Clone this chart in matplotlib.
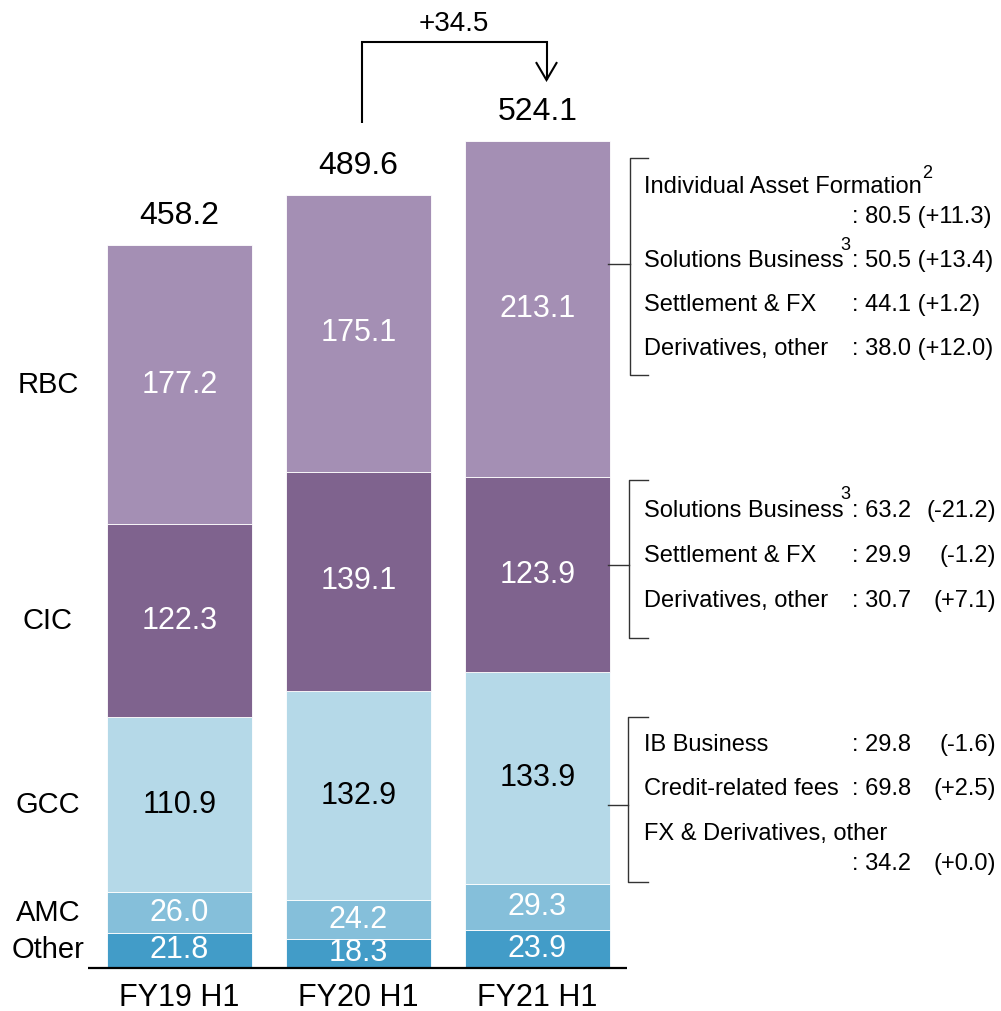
import matplotlib
matplotlib.use("Agg")
import matplotlib.pyplot as plt
import numpy as np

plt.rcParams['font.family'] = ['Liberation Sans', 'DejaVu Sans']

# ---- data ----
periods = ["FY19 H1", "FY20 H1", "FY21 H1"]
segments = ["Other", "AMC", "GCC", "CIC", "RBC"]
other = [21.8, 18.3, 23.9]
amc = [26.0, 24.2, 29.3]
gcc = [110.9, 132.9, 133.9]
cic = [122.3, 139.1, 123.9]
rbc = [177.2, 175.1, 213.1]
totals = [458.2, 489.6, 524.1]

rbc_items = ["Individual Asset Formation", "Solutions Business", "Settlement & FX", "Derivatives, other"]
rbc_values = [80.5, 50.5, 44.1, 38.0]
rbc_changes = [11.3, 13.4, 1.2, 12.0]

cic_items = ["Solutions Business", "Settlement & FX", "Derivatives, other"]
cic_values = [63.2, 29.9, 30.7]
cic_changes = [-21.2, -1.2, 7.1]

gcc_items = ["IB Business", "Credit-related fees", "FX & Derivatives, other"]
gcc_values = [29.8, 69.8, 34.2]
gcc_changes = [-1.6, 2.5, 0.0]

colors = ["#429cc8", "#85bfda", "#b5d9e8", "#7f638e", "#a48fb4"]
label_colors = ["white", "white", "black", "white", "white"]

# ---- figure / axes ----
W, H = 1001, 1011
fig = plt.figure(figsize=(W / 100, H / 100), dpi=100)
ax = fig.add_axes([0, 0, 1, 1])
ax.set_axis_off()

px_per_x = 179.0
x0_px = 179.5
px_per_y = 1.577
base_px = 967.5  # from top
ax.set_xlim(-x0_px / px_per_x, (W - x0_px) / px_per_x)
ax.set_ylim(-(H - base_px) / px_per_y, base_px / px_per_y)


def fpx(x, y):
    """figure coords from pixel position (origin top-left)"""
    return x / W, 1 - y / H


def dy(pixels):
    return pixels / px_per_y


def dx(pixels):
    return pixels / px_per_x


x = np.arange(len(periods))
width = 0.805
stack = [other, amc, gcc, cic, rbc]
bottom = np.zeros(len(periods))
centers = []
for vals, col, tcol in zip(stack, colors, label_colors):
    vals = np.array(vals)
    ax.bar(x, vals, width, bottom=bottom, color=col, edgecolor="white", linewidth=0.6, zorder=2)
    mids = bottom + vals / 2
    centers.append(mids)
    for xi, m, v in zip(x, mids, vals):
        ax.text(xi, m, f"{v:.1f}", ha="center", va="center", color=tcol, fontsize=22, zorder=3)
    bottom = bottom + vals

# totals above bars
for xi, t in zip(x, totals):
    ax.text(xi, t + dy(29), f"{t:.1f}", ha="center", va="center", fontsize=23, color="black")

# baseline
ax.plot([dx(88 - x0_px), dx(627 - x0_px)], [0, 0], color="black", lw=1.6, zorder=4, solid_capstyle="butt")

# period labels
for xi, p in zip(x, periods):
    ax.text(xi, -dy(30), p, ha="center", va="center", fontsize=22)

# segment names on the left, aligned with first bar
for name, mids in zip(segments, centers):
    ax.text(-0.735, mids[0], name, ha="center", va="center", fontsize=21)

# growth arrow between FY20 and FY21
delta = totals[2] - totals[1]
xl = x[1] + dx(3)
xr = x[2] + dx(9)
y_low = totals[1] + dy(72)
y_top = totals[1] + dy(153)
y_tip = totals[2] + dy(61)
ax.plot([xl, xl, xr, xr], [y_low, y_top, y_top, y_tip], color="black", lw=1.5,
        solid_joinstyle="miter", solid_capstyle="butt")
ax.plot([xr - dx(10), xr, xr + dx(10)], [y_tip + dy(17), y_tip, y_tip + dy(17)],
        color="black", lw=1.5, solid_joinstyle="miter")
ax.text((xl + xr) / 2, y_top + dy(18), f"{delta:+.1f}", ha="center", va="center", fontsize=20)

# ---- breakdown brackets on the right ----
line_kw = dict(color="#333333", lw=1.0, transform=fig.transFigure)


def bracket(top, bottom_, mid, xv=629):
    xs = [648, xv, xv, 648]
    ys = [top, top, bottom_, bottom_]
    fig.lines.append(plt.Line2D([fpx(a, 0)[0] for a in xs], [fpx(0, b)[1] for b in ys], **line_kw))
    fig.lines.append(plt.Line2D([fpx(608, 0)[0], fpx(xv, 0)[0]], [fpx(0, mid)[1]] * 2, **line_kw))


fs = 17
sup = 13
left_x = 644
val_x = 852
chg_x = 996

# RBC
bracket(158, 375, 264, xv=630)
rbc_rows = [(187, 217), (261, 261), (305, 305), (349, 349)]
for (ly, vy), name, v, c in zip(rbc_rows, rbc_items, rbc_values, rbc_changes):
    fig.text(*fpx(left_x, ly), name, ha="left", va="center", fontsize=fs)
    fig.text(*fpx(val_x, vy), f": {v:.1f} ({c:+.1f})", ha="left", va="center", fontsize=fs)
fig.text(*fpx(922, 174), "2", ha="left", va="center", fontsize=sup)
fig.text(*fpx(840, 246), "3", ha="left", va="center", fontsize=sup)

# CIC
bracket(480, 638, 565)
for y, name, v, c in zip([511, 556, 601], cic_items, cic_values, cic_changes):
    fig.text(*fpx(left_x, y), name, ha="left", va="center", fontsize=fs)
    fig.text(*fpx(val_x, y), f": {v:.1f}", ha="left", va="center", fontsize=fs)
    fig.text(*fpx(chg_x, y), f"({c:+.1f})", ha="right", va="center", fontsize=fs)
fig.text(*fpx(840, 495), "3", ha="left", va="center", fontsize=sup)

# GCC
bracket(717, 882, 805, xv=628)
gcc_rows = [(745, 745), (789, 789), (834, 864)]
for (ly, vy), name, v, c in zip(gcc_rows, gcc_items, gcc_values, gcc_changes):
    fig.text(*fpx(left_x, ly), name, ha="left", va="center", fontsize=fs)
    fig.text(*fpx(val_x, vy), f": {v:.1f}", ha="left", va="center", fontsize=fs)
    fig.text(*fpx(chg_x, vy), f"({c:+.1f})", ha="right", va="center", fontsize=fs)

fig.savefig("out.png", dpi=100, facecolor="white")
